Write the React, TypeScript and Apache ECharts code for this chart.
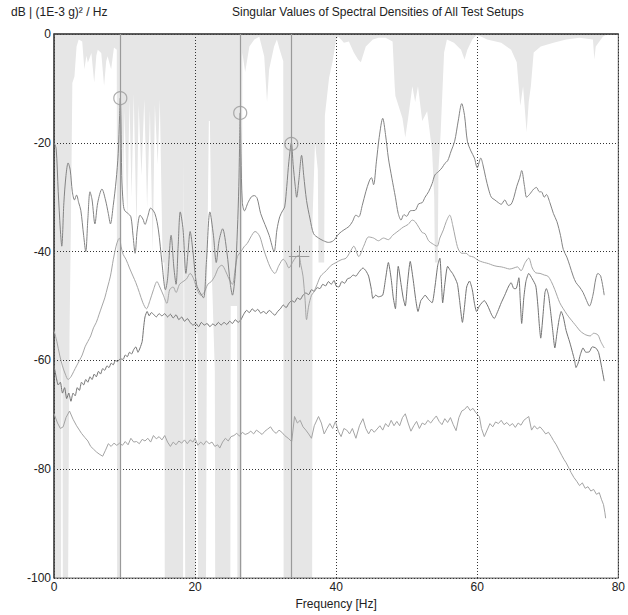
import React, { useEffect, useRef } from "react";
import * as echarts from "echarts";

// Frequency [Hz], dB pairs
const sv1: number[][] = [
[0,-20],[0.3,-21],[0.6,-29],[0.9,-36],[1.1,-39],[1.4,-31],[1.7,-26],[2.0,-23.7],[2.3,-25],[2.6,-29],[2.9,-30.5],[3.2,-29.6],[3.5,-31],[3.8,-32.4],[4.2,-37],[4.5,-40],[4.8,-34],[5.1,-29],[5.4,-30.5],[5.8,-34.9],[6.2,-31],[6.8,-28.5],[7.3,-30.5],[7.7,-33],[8.0,-34.9],[8.4,-31.5],[8.8,-27],[9.1,-22],[9.3,-15],[9.4,-11.8],[9.5,-16],[9.6,-26],[9.8,-31],[10.0,-32.4],[10.5,-33],[10.9,-33.6],[11.2,-37],[11.5,-40.3],[11.8,-36],[12.2,-33.3],[12.6,-34],[12.9,-35],[13.3,-33.5],[13.7,-32],[14.3,-33],[14.8,-36],[15.3,-42],[15.8,-47],[16.1,-45],[16.6,-37],[17.0,-43],[17.3,-46],[17.6,-39],[17.9,-32.7],[18.3,-36],[18.7,-44],[19.0,-40],[19.3,-36.3],[19.7,-40],[20.2,-46],[20.7,-47.5],[21.2,-48.5],[21.6,-42],[22.1,-32.7],[22.6,-37],[23.0,-42],[23.4,-38],[23.9,-35.8],[24.5,-40],[25.0,-46],[25.3,-48],[25.7,-44],[26.0,-36],[26.2,-28],[26.3,-21],[26.4,-14.5],[26.5,-22],[26.7,-31],[27.0,-32.5],[27.5,-31],[28.0,-29.9],[28.4,-29.7],[28.8,-30.2],[29.3,-33],[29.9,-35],[30.5,-37],[31.2,-40],[31.6,-36],[32.0,-33.6],[32.4,-32.5],[32.7,-31.8],[33.0,-28],[33.3,-23.4],[33.65,-20],[33.9,-24],[34.2,-28],[34.4,-30],[34.7,-27],[35.1,-22.3],[35.4,-26],[35.8,-30.6],[36.3,-34],[36.8,-36.7],[37.5,-37.5],[38.2,-38],[38.9,-38.3],[39.6,-38],[40.4,-36.7],[41.1,-36],[41.8,-35.4],[42.3,-34.5],[42.8,-33.3],[43.2,-33.6],[43.7,-31.5],[44.2,-29],[44.7,-27],[45.0,-26.4],[45.3,-27.7],[45.7,-23.5],[46.1,-19],[46.6,-15.5],[47.0,-18.5],[47.4,-22.8],[47.9,-26.5],[48.4,-30],[48.8,-33],[49.2,-34.2],[49.6,-33.2],[50.0,-33.5],[50.5,-32.5],[51.2,-32.4],[51.7,-31.2],[52.2,-31],[52.6,-30],[53.1,-29],[53.6,-27.5],[54.0,-25.9],[54.5,-25.3],[55.0,-24.6],[55.4,-23.8],[55.8,-23.3],[56.3,-21.5],[56.8,-19.7],[57.3,-16],[57.8,-12.8],[58.2,-15],[58.6,-19.7],[59.1,-21.5],[59.6,-22.8],[60.0,-24.6],[60.5,-22.8],[60.8,-24],[61.2,-26.4],[61.6,-28.5],[62.0,-30],[62.5,-30.5],[63.0,-31],[63.4,-31.3],[63.9,-30.5],[64.4,-31.5],[64.8,-31.3],[65.2,-30],[65.6,-28],[66.0,-26.5],[66.3,-25.1],[66.7,-28],[67.0,-30],[67.4,-29.5],[67.7,-29],[68.0,-28.5],[68.4,-28.2],[68.8,-29],[69.1,-29],[69.5,-30],[69.8,-29.5],[70.3,-31],[70.8,-33],[71.3,-34.5],[71.8,-37],[72.2,-39.6],[72.7,-41],[73.1,-42.5],[73.6,-44.5],[74.0,-45.7],[74.5,-46.5],[75.0,-47.5],[75.5,-49],[75.9,-50],[76.4,-48],[76.8,-45],[77.1,-44],[77.5,-44.5],[78.0,-48]
];

const sv2: number[][] = [
[0,-54.5],[0.4,-56.5],[0.8,-59],[1.2,-61],[1.6,-62.5],[2.0,-63.5],[2.4,-63],[2.8,-62],[3.2,-61],[3.6,-60],[4.0,-59],[4.4,-57.5],[4.8,-56.5],[5.2,-55.5],[5.6,-54],[6.0,-53],[6.4,-51.5],[6.8,-50],[7.2,-48.5],[7.6,-46.5],[8.0,-44.5],[8.4,-41.5],[8.8,-39],[9.1,-37.8],[9.3,-37.5],[9.5,-39],[9.8,-40.5],[10.2,-41.4],[10.7,-43],[11.2,-44.5],[11.6,-45.7],[12.1,-47.5],[12.6,-49.4],[13.1,-50.5],[13.6,-49],[14.1,-47],[14.6,-45.5],[15.0,-46.5],[15.5,-48],[16.0,-49.5],[16.4,-47],[16.9,-46.5],[17.3,-47.5],[17.8,-46],[18.3,-45.5],[18.8,-45],[19.3,-44],[19.8,-45],[20.3,-47],[20.8,-48],[21.3,-47.5],[21.8,-46],[22.3,-45.5],[22.8,-44.5],[23.3,-43],[23.8,-42.5],[24.3,-43.5],[24.8,-45],[25.3,-46],[25.7,-43],[26.0,-40.9],[26.5,-40],[27.0,-39],[27.4,-38.5],[27.9,-37.3],[28.5,-36.3],[28.8,-36.5],[29.2,-37.3],[29.7,-39.5],[30.2,-41.4],[30.7,-43],[31.3,-44],[31.9,-42.5],[32.5,-41.4],[32.9,-42],[33.3,-43],[33.8,-42],[34.3,-41],[34.7,-40.7],[35.0,-42.5],[35.3,-44.5],[35.6,-49],[35.8,-52.5],[36.1,-50],[36.5,-48],[36.8,-47.5],[37.3,-46],[37.8,-44.5],[38.6,-43.5],[39.3,-42.5],[40.0,-42],[40.7,-41.5],[41.4,-41.2],[42.0,-40],[42.5,-39],[43.2,-40.9],[43.9,-39],[44.6,-37.3],[45.3,-37.5],[46.0,-38],[46.7,-37.5],[47.4,-37.8],[48.0,-37],[48.5,-36.5],[49.0,-36],[49.5,-35.5],[50.2,-35],[50.8,-34.2],[51.2,-34.5],[51.7,-35.5],[52.2,-36.5],[52.6,-36.7],[53.1,-38],[53.6,-38.5],[54.3,-39],[54.7,-37.5],[55.2,-36],[55.6,-34.5],[56.1,-33.3],[56.5,-35],[56.9,-37.5],[57.3,-39.5],[57.8,-40.3],[58.4,-40.3],[58.9,-40.8],[59.5,-41],[60.0,-41.5],[60.5,-41.8],[61.0,-42],[61.6,-42.2],[62.2,-42.5],[62.8,-42.7],[63.4,-42.8],[64.0,-43],[64.6,-43.2],[65.2,-43],[65.7,-42.8],[66.2,-43.5],[66.8,-42],[67.3,-41.2],[67.8,-43],[68.3,-43.9],[68.9,-44],[69.5,-44.3],[70.0,-44.5],[70.5,-45.5],[71.0,-47],[71.7,-49.4],[72.2,-50.5],[72.7,-51.5],[73.1,-52.2],[73.6,-53],[74.1,-53.8],[74.6,-54.6],[75.0,-55],[75.4,-55.3],[76.0,-55.5],[76.5,-55],[77.1,-55.3],[77.5,-56.5],[78.0,-57.7]
];

const sv3: number[][] = [
[0,-61],[0.3,-63],[0.6,-64.5],[0.9,-64],[1.2,-66],[1.5,-65],[1.8,-67],[2.1,-66],[2.4,-67.5],[2.7,-66],[3.0,-66.5],[3.3,-65],[3.6,-65.5],[3.9,-64],[4.2,-64.5],[4.5,-63.5],[4.8,-64],[5.1,-63],[5.4,-63.5],[5.7,-62.5],[6.0,-63],[6.3,-62],[6.6,-62.5],[6.9,-61.5],[7.2,-61.8],[7.5,-61],[7.8,-61.3],[8.1,-60.5],[8.4,-60.8],[8.7,-60],[9.0,-60.2],[9.4,-59.7],[9.8,-59.8],[10.1,-59],[10.4,-59.3],[10.7,-58.5],[11.0,-58.8],[11.3,-58],[11.6,-57.5],[11.9,-58.5],[12.2,-57.7],[12.5,-56.5],[12.7,-54],[12.9,-52],[13.2,-51],[13.5,-51.8],[13.8,-51.2],[14.1,-51.5],[14.5,-52],[14.9,-51.4],[15.3,-51.8],[15.7,-51.4],[16.1,-52],[16.5,-51.5],[16.9,-52.2],[17.3,-51.6],[17.7,-52.5],[18.1,-52],[18.5,-52.8],[18.9,-52.3],[19.3,-53],[19.7,-53.5],[20.1,-53.2],[20.5,-53.8],[20.9,-53],[21.3,-53.5],[21.7,-53.2],[22.1,-53.8],[22.5,-53.3],[22.9,-53.6],[23.3,-53],[23.7,-53.5],[24.1,-53],[24.5,-53.4],[24.9,-52.8],[25.3,-53.2],[25.7,-52.5],[26.1,-53],[26.5,-52.5],[26.9,-51.5],[27.3,-50.8],[27.7,-51.2],[28.1,-50.5],[28.5,-51],[28.9,-50.6],[29.3,-51.3],[29.7,-51],[30.1,-51.4],[30.5,-50.8],[30.9,-51.2],[31.3,-51.7],[31.7,-51],[32.1,-50.5],[32.5,-49.8],[32.9,-50.3],[33.3,-49.5],[33.7,-49],[34.1,-49.3],[34.5,-48.5],[34.9,-48.8],[35.3,-48],[35.7,-47.6],[36.1,-47.9],[36.5,-47],[36.9,-47.3],[37.3,-46.6],[37.7,-46.8],[38.1,-46],[38.5,-46.3],[38.9,-45.5],[39.3,-46],[39.7,-45.3],[40.0,-46.3],[40.4,-46.5],[40.8,-45.5],[41.2,-45.8],[41.6,-45],[42.0,-44.8],[42.4,-44.3],[42.8,-44.5],[43.2,-43.8],[43.8,-43],[44.2,-43.5],[44.6,-44.5],[45.0,-47],[45.2,-48.6],[45.6,-48],[46.0,-48.3],[46.6,-48],[47.0,-45],[47.4,-42],[47.8,-45],[48.1,-48.5],[48.4,-50.5],[48.6,-46],[48.8,-42.7],[49.2,-46],[49.5,-48.5],[49.8,-50],[50.1,-46],[50.5,-41.8],[50.9,-45],[51.3,-49],[51.6,-51],[52.0,-49],[52.3,-48.5],[52.6,-48],[53.1,-48.8],[53.6,-49.4],[54.0,-46.5],[54.4,-42.5],[54.7,-41.2],[54.9,-45],[55.1,-49.4],[55.4,-46],[55.8,-42.7],[56.2,-43.5],[56.5,-44],[56.9,-45],[57.2,-46],[57.5,-49],[57.9,-53],[58.2,-50],[58.5,-46.5],[58.9,-45.4],[59.3,-47],[59.6,-49.5],[59.9,-51],[60.3,-50],[61.0,-49],[61.5,-50],[62.0,-51.5],[62.4,-52.3],[62.9,-51],[63.4,-49.4],[63.9,-48],[64.4,-46.5],[64.8,-45.7],[65.2,-46.8],[65.5,-46.8],[65.9,-44.8],[66.1,-49],[66.3,-53.2],[66.6,-48.5],[66.9,-45.5],[67.3,-44],[67.8,-45],[68.3,-46.3],[68.6,-50],[68.8,-53.5],[69.0,-55.9],[69.3,-52],[69.6,-47.5],[69.8,-46.8],[70.1,-48],[70.4,-51],[70.7,-54.5],[71.0,-57.7],[71.3,-55],[71.6,-52.5],[71.9,-51],[72.2,-52],[72.6,-54.5],[73.1,-56.6],[73.5,-58.5],[73.8,-60],[74.0,-61.3],[74.3,-60.5],[74.6,-59],[75.0,-57.7],[75.4,-58.5],[75.9,-58.4],[76.3,-57.5],[76.8,-57.7],[77.2,-58.5],[77.6,-61],[78.0,-63.8]
];

const sv4: number[][] = [
[0,-69.8],[0.5,-71.5],[0.9,-72.5],[1.3,-72.2],[1.7,-70.5],[2.2,-69.3],[2.7,-70.8],[3.2,-72],[3.6,-72.8],[3.9,-73.4],[4.4,-74.2],[4.8,-74.8],[5.2,-75.8],[5.6,-76.3],[6.0,-76.8],[6.4,-77.2],[6.9,-77.6],[7.3,-76.5],[7.7,-75.3],[8.1,-75.8],[8.5,-75.2],[8.9,-75.6],[9.3,-75.2],[9.7,-75.6],[10.1,-74.9],[10.5,-75.5],[10.9,-74.3],[11.3,-75],[11.7,-74.9],[12.1,-75.3],[12.5,-74.5],[12.9,-74.8],[13.3,-74.3],[13.7,-75],[14.1,-73.8],[14.5,-74.4],[14.9,-74],[15.3,-74.6],[15.7,-73.8],[16.1,-75],[16.5,-75.8],[16.9,-75],[17.3,-75.5],[17.7,-74.8],[18.1,-75.2],[18.5,-74.6],[18.9,-75.3],[19.3,-74.6],[19.7,-75],[20.0,-74.3],[20.4,-75.6],[20.8,-75],[21.2,-75.5],[21.6,-74.8],[22.0,-75.3],[22.4,-75],[22.8,-75.8],[23.2,-75.5],[23.5,-76.1],[23.9,-75],[24.3,-74.3],[24.7,-74.8],[25.1,-74],[25.5,-73.8],[25.9,-73.4],[26.3,-73.9],[26.7,-73.2],[27.1,-73.6],[27.5,-73.4],[27.9,-73],[28.3,-73.5],[28.7,-72.8],[29.1,-73.2],[29.5,-73.6],[29.9,-73],[30.3,-72.6],[30.7,-72.2],[31.1,-73],[31.5,-73.4],[31.9,-72.8],[32.3,-73.2],[32.7,-73.8],[33.2,-74.3],[33.7,-74.9],[34.1,-70.3],[34.5,-71.5],[34.9,-71],[35.3,-72.2],[35.7,-72.8],[36.1,-73.5],[36.5,-74.3],[36.9,-72],[37.5,-70.3],[37.9,-71.5],[38.3,-73.5],[38.7,-72.5],[39.1,-71.6],[39.5,-72.5],[39.9,-71.2],[40.3,-73],[40.7,-74],[41.1,-72.5],[41.5,-72.8],[41.9,-73.5],[42.3,-72.5],[42.8,-74.3],[43.3,-72],[43.8,-70.7],[44.2,-72.5],[44.6,-73.5],[45.0,-72.6],[45.4,-73.2],[45.8,-72.6],[46.2,-72],[46.6,-72.8],[47.0,-71.6],[47.4,-72.2],[47.8,-71],[48.2,-72],[48.6,-71.2],[49.0,-72],[49.4,-70.5],[49.8,-69.8],[50.2,-71.5],[50.6,-73],[51.0,-72],[51.4,-71.2],[51.8,-72.5],[52.2,-71.5],[52.6,-71.8],[53.0,-71],[53.4,-71.5],[53.8,-70.8],[54.2,-70.2],[54.6,-71.2],[55.0,-71.8],[55.4,-70.7],[55.8,-71.4],[56.2,-70.5],[56.6,-71.8],[57.0,-72.9],[57.4,-70.5],[57.8,-69.3],[58.2,-69],[58.6,-68.4],[59.0,-69.2],[59.4,-68.8],[59.8,-69.6],[60.3,-70.3],[60.6,-72.5],[61.0,-74],[61.4,-72.8],[61.8,-71.6],[62.2,-72.2],[62.6,-71.3],[63.0,-71.6],[63.4,-71],[63.8,-71.8],[64.2,-71.4],[64.6,-72],[65.0,-71.6],[65.4,-72.3],[65.8,-71.5],[66.2,-71.9],[66.6,-71],[67.0,-70.6],[67.3,-70.3],[67.7,-72.8],[68.1,-72],[68.5,-72.6],[68.9,-72.2],[69.3,-72.8],[69.7,-73.5],[70.1,-73.2],[70.5,-74],[70.8,-74.7],[71.2,-75.5],[71.6,-76.5],[72.0,-77.5],[72.3,-78.2],[72.6,-78.8],[73.0,-79.8],[73.3,-80.6],[73.7,-81.5],[74.1,-82.2],[74.5,-83],[74.9,-82.5],[75.3,-83.5],[75.7,-83.2],[76.1,-84],[76.5,-83.7],[76.9,-84.6],[77.3,-84.3],[77.6,-85.5],[77.9,-86.5],[78.1,-88],[78.2,-89]
];

// lower edge of the grey shading that hangs from 0 dB
const shade: number[][] = [
[0,-100],[1.0,-100],[1.05,-60],[1.2,-60],[1.25,-100],[2.0,-100],[2.2,-55],[2.4,-35],[2.6,-9],[2.9,-7.8],[3.2,-2.3],[3.5,-1],[4.0,-1.4],[4.3,-6.5],[4.6,-4],[4.8,-5.3],[5.3,-3.5],[5.7,-8.9],[6.0,-4],[6.2,-2.9],[6.7,-3.5],[7.1,-9.5],[7.4,-5],[7.6,-4.1],[8.1,-6.5],[8.5,-2.5],[8.9,-2.9],[8.95,-100],[9.5,-100],[9.55,-12],[9.8,-28],[10.0,-14],[10.4,-34],[10.7,-12],[11.0,-30],[11.3,-11],[11.7,-36],[12.0,-13],[12.4,-26],[12.8,-12],[13.2,-32],[13.6,-14],[14.0,-40],[14.3,-13],[14.7,-24],[15.0,-12],[15.4,-42],[15.65,-42],[15.7,-100],[18.3,-100],[18.4,-22],[18.5,-22],[18.6,-100],[20.1,-100],[20.15,-55],[20.35,-55],[20.4,-100],[21.55,-100],[21.7,-45],[21.95,-16],[22.1,-16],[22.4,-45],[22.8,-62],[22.85,-100],[25.0,-100],[25.05,-50],[25.95,-50],[26.0,-100],[26.6,-100],[26.7,-3.4],[27.1,-7],[27.7,-2.3],[28.4,-1],[29.1,-0.5],[29.8,-4.1],[30.2,-12.5],[30.5,-6.5],[31.2,-2.3],[31.6,-1],[32.0,-2.9],[32.5,-5],[32.55,-100],[36.6,-100],[36.65,-34],[37.0,-20],[37.4,-25],[37.5,-42],[38.3,-42],[38.4,-15],[39.0,-8],[39.5,-5],[40.0,-1],[40.3,-0.5],[40.7,-1],[41.1,-1.6],[41.8,-1.4],[42.5,-3.4],[43.1,-4.7],[43.5,-5.2],[44.2,-2.3],[45.2,-1],[46.0,-0.7],[47.0,-0.7],[48.0,-1.4],[48.3,-9.6],[48.4,-11.4],[49.4,-15.5],[49.8,-19],[50.2,-15.5],[50.8,-9.6],[51.2,-12.5],[51.6,-9.6],[52.2,-16],[52.9,-14.2],[53.6,-21.5],[53.9,-30],[54.0,-42],[54.4,-42],[54.5,-25],[54.8,-18.5],[55.3,-3.4],[55.7,-1],[56.7,-1.6],[57.7,-2.9],[58.2,-4.7],[58.6,-2.9],[59.3,-1],[59.9,-0.2],[60.6,-0.5],[61.4,-1],[63.4,-1.6],[64.8,-2.9],[65.6,-5.2],[66.1,-13.2],[66.5,-9.6],[67.0,-18],[67.3,-12.5],[67.6,-9.6],[68.0,-3.4],[69.0,-2.3],[70.8,-1.6],[72.6,-1],[74.5,-0.7],[76.4,-1],[76.6,-4.7],[76.8,-2.3],[77.8,-0.5],[78.2,-0.2],[78.3,0],[80,0]
];

const modeFreqs: number[] = [9.4, 26.4, 33.65];
const modePeaks: number[][] = [[9.4, -11.8], [26.4, -14.5], [33.65, -20.2]];
const cursor: number[] = [33.3, 36.2, 34.7, -40.9];

const xTicks = { min: 0, max: 80, interval: 20 };
const yTicks = { min: -100, max: 0, interval: 20 };

const FONT = "'Liberation Sans', Arial, Helvetica, sans-serif";
const W = 628;
const H = 615;

export default function App() {
  const ref = useRef<HTMLDivElement>(null);
  useEffect(() => {
    if (!ref.current) return;
    document.documentElement.style.margin = "0";
    document.body.style.margin = "0";
    const chart = echarts.init(ref.current, undefined, { renderer: "svg", width: W, height: H });
    const lineSeries = (name: string, data: number[][], color: string, smooth: number) => ({
      name,
      type: "line",
      data,
      showSymbol: false,
      symbol: "none",
      smooth,
      z: 3,
      lineStyle: { color, width: 1 },
      silent: true,
    });
    chart.setOption({
      animation: false,
      backgroundColor: "#ffffff",
      title: [
        {
          text: "Singular Values of Spectral Densities of All Test Setups",
          left: 227,
          top: 1,
          textStyle: { fontSize: 12, fontWeight: "normal", color: "#222", fontFamily: FONT },
        },
        {
          text: "dB | (1E-3 g)² / Hz",
          left: 6,
          top: 1,
          textStyle: { fontSize: 12, fontWeight: "normal", color: "#222", fontFamily: FONT },
        },
      ],
      grid: {
        left: 54,
        right: 2,
        top: 34,
        bottom: 28,
        show: true,
        borderColor: "#555",
        borderWidth: 1,
        backgroundColor: "transparent",
        z: 1,
      },
      xAxis: {
        type: "value",
        min: xTicks.min,
        max: xTicks.max,
        interval: xTicks.interval,
        z: 1,
        name: "Frequency [Hz]",
        nameLocation: "middle",
        nameGap: 14,
        nameTextStyle: { fontSize: 12, color: "#222", fontFamily: FONT },
        axisLine: { show: true, lineStyle: { color: "#444", width: 1.5 } },
        axisTick: { show: false },
        axisLabel: { fontSize: 12, color: "#222", fontFamily: FONT, margin: 3 },
        splitLine: { show: true, lineStyle: { color: "#333", type: [1, 2], width: 1 } },
      },
      yAxis: {
        type: "value",
        min: yTicks.min,
        max: yTicks.max,
        interval: yTicks.interval,
        z: 1,
        axisLine: { show: true, lineStyle: { color: "#444", width: 1.5 } },
        axisTick: { show: false },
        axisLabel: { fontSize: 12, color: "#222", fontFamily: FONT, margin: 3 },
        splitLine: { show: true, lineStyle: { color: "#333", type: [1, 2], width: 1 } },
      },
      series: [
        {
          name: "shade",
          type: "line",
          data: shade,
          showSymbol: false,
          symbol: "none",
          z: 0,
          silent: true,
          lineStyle: { width: 0, opacity: 0 },
          areaStyle: { origin: "end", color: "#e6e6e6", opacity: 1 },
        },
        {
          name: "modes",
          type: "line",
          data: [],
          z: 2,
          silent: true,
          markLine: {
            silent: true,
            symbol: "none",
            animation: false,
            label: { show: false },
            lineStyle: { color: "#9a9a9a", width: 1.2, type: "solid" },
            data: modeFreqs.map((f) => ({ xAxis: f })),
          },
        },
        lineSeries("SV4", sv4, "#a4a4a4", 0),
        lineSeries("SV3", sv3, "#737373", 0.2),
        lineSeries("SV2", sv2, "#a6a6a6", 0.3),
        lineSeries("SV1", sv1, "#838383", 0.3),
        {
          name: "peaks",
          type: "scatter",
          data: modePeaks,
          symbol: "circle",
          symbolSize: 13,
          z: 4,
          silent: true,
          itemStyle: { color: "rgba(0,0,0,0)", borderColor: "#999", borderWidth: 1.2 },
          markLine: {
            silent: true,
            symbol: "none",
            animation: false,
            label: { show: false },
            lineStyle: { color: "#999", width: 1, type: "solid" },
            data: [
              [{ coord: [cursor[0], cursor[3]] }, { coord: [cursor[1], cursor[3]] }],
              [{ coord: [cursor[2], cursor[3] + 2] }, { coord: [cursor[2], cursor[3] - 2] }],
            ],
          },
        },
      ],
    });
    return () => chart.dispose();
  }, []);
  return (
    <div
      ref={ref}
      style={{ position: "fixed", left: 0, top: 0, width: W, height: H, background: "#fff" }}
    />
  );
}
